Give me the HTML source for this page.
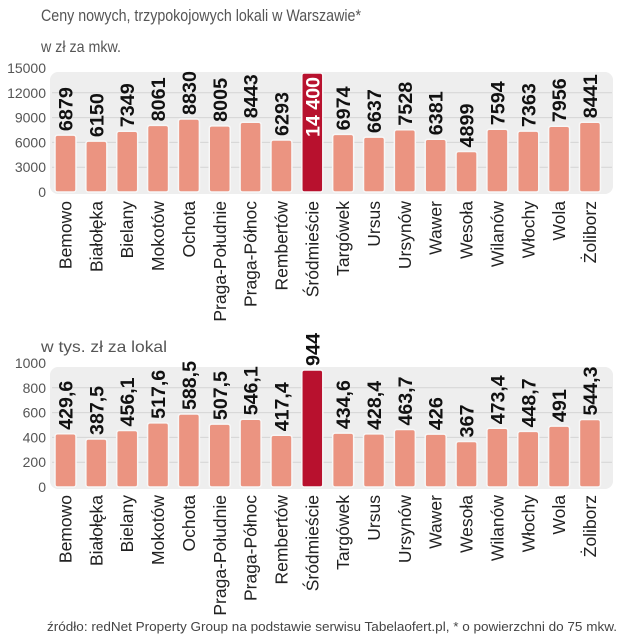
<!DOCTYPE html>
<html><head><meta charset="utf-8"><style>
html,body{margin:0;padding:0;background:#fff}
svg{display:block;font-family:"Liberation Sans Narrow","Liberation Sans",sans-serif}
</style></head><body>
<svg id="c" width="627" height="640" viewBox="0 0 627 640" xmlns="http://www.w3.org/2000/svg">
<text x="41" y="21" font-size="16.5" fill="#555" textLength="320" lengthAdjust="spacingAndGlyphs">Ceny nowych, trzypokojowych lokali w Warszawie*</text>
<text x="41" y="52" font-size="16" fill="#555" textLength="80" lengthAdjust="spacingAndGlyphs">w zł za mkw.</text>
<text x="41" y="352" font-size="16" fill="#555" textLength="126" lengthAdjust="spacingAndGlyphs">w tys. zł za lokal</text>
<text x="47" y="631" font-size="13" fill="#444" textLength="570" lengthAdjust="spacingAndGlyphs">źródło: redNet Property Group na podstawie serwisu Tabelaofert.pl, * o powierzchni do 75 mkw.</text>
</svg>
<script>
const districts=["Bemowo","Białołęka","Bielany","Mokotów","Ochota","Praga-Południe","Praga-Północ","Rembertów","Śródmieście","Targówek","Ursus","Ursynów","Wawer","Wesoła","Wilanów","Włochy","Wola","Żoliborz"];
const pricePerSqm=[6879,6150,7349,8061,8830,8005,8443,6293,14400,6974,6637,7528,6381,4899,7594,7363,7956,8441];
const priceLabels=["6879","6150","7349","8061","8830","8005","8443","6293","14 400","6974","6637","7528","6381","4899","7594","7363","7956","8441"];
const pricePerFlat=[429.6,387.5,456.1,517.6,588.5,507.5,546.1,417.4,944,434.6,428.4,463.7,426,367,473.4,448.7,491,544.3];
const flatLabels=["429,6","387,5","456,1","517,6","588,5","507,5","546,1","417,4","944","434,6","428,4","463,7","426","367","473,4","448,7","491","544,3"];
const ticksTop=[0,3000,6000,9000,12000,15000];
const ticksBottom=[0,200,400,600,800,1000];
const highlight="Śródmieście";
const svg=document.getElementById('c');
const NS="http://www.w3.org/2000/svg";
function mk(t,a,p){const e=document.createElementNS(NS,t);for(const k in a)e.setAttribute(k,a[k]);(p||svg).appendChild(e);return e;}
function labLen(s){let n=0;for(const ch of s)n+=/[0-9]/.test(ch)?11:5;return n;}
function panel(name,vals,labs,ticks,maxV,y0,y1,labelTop){
  const g=mk('g',{});
  
  
  const y=v=>y0-(v/maxV)*(y0-y1);
  const x=i=>65.5+i*30.85;
  const bg=mk('rect',{x:50,y:y1+4,width:563,height:y0-y1-4+2,rx:8,fill:'#eeeeee'},g);
  
  
  ticks.forEach(t=>{
    if(t>0&&t<maxV){const l=mk('line',{x1:52,x2:612,y1:y(t),y2:y(t),stroke:'#d4d4d4','stroke-width':1},g);
    
    }
    const tx=mk('text',{x:46,y:y(t)+5,'text-anchor':'end','font-size':14,fill:'#555'},g);
    tx.textContent=String(t);
    
    
  });
  vals.forEach((v,i)=>{
    const hi=districts[i]===highlight;
    const cx=x(i);
    const r=mk('rect',{x:cx-10.5,y:y(v),width:21,height:y0-y(v),rx:2.5,fill:hi?'#b8112e':'#eb9481',stroke:'#f7f7f7','stroke-width':1.5},g);
    
    
    const inside=hi&&y(v)<y1+30&&name==='top-chart';
    const ly=inside?y(v)+4:y(v)-4;
    const vt=mk('text',{transform:`translate(${cx+7},${ly}) rotate(-90)`,'text-anchor':inside?'end':'start','font-size':19,'font-weight':'bold',fill:inside?'#fff':'#111',textLength:labLen(labs[i]),lengthAdjust:'spacingAndGlyphs'},g);
    vt.textContent=labs[i];
    
    
    const lt=mk('text',{transform:`translate(${cx+6},${labelTop}) rotate(-90)`,'text-anchor':'end','font-size':17.5,fill:'#222'},g);
    lt.textContent=districts[i];
    
    
  });
}
panel('top-chart',pricePerSqm,priceLabels,ticksTop,15000,192,68,201);
panel('bottom-chart',pricePerFlat,flatLabels,ticksBottom,1000,487,363,495);
</script>
</body></html>
